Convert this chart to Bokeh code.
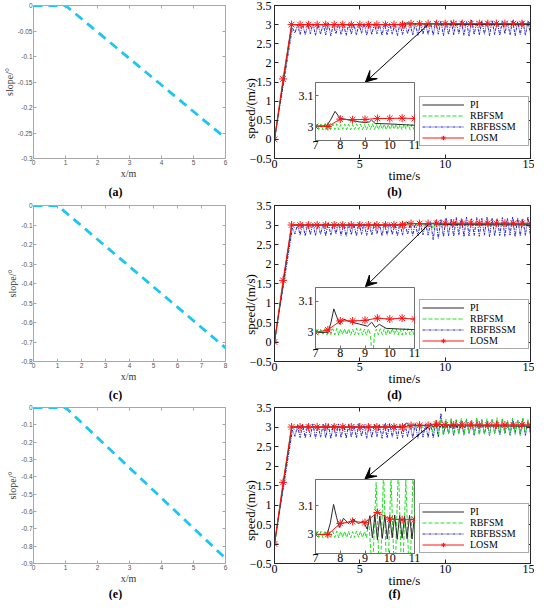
import math
import numpy as np
from bokeh.plotting import figure
from bokeh.models import (GridBox, FixedTicker, Range1d, Arrow, VeeHead, Legend,
                          LegendItem, Label, LinearAxis)
from bokeh.embed import file_html
from bokeh.resources import INLINE

# ======================= DATA =======================
# --- slope profiles (left column) ---
slope_a_x = [0, 1, 6]
slope_a_y = [0, 0, -0.26]
slope_c_x = [0, 1, 8]
slope_c_y = [0, 0, -0.73]
slope_e_x = [0, 1, 6]
slope_e_y = [0, 0, -0.87]

slope_a_xticks = [0, 1, 2, 3, 4, 5, 6]
slope_c_xticks = [0, 1, 2, 3, 4, 5, 6, 7, 8]
slope_e_xticks = [0, 1, 2, 3, 4, 5, 6]
slope_a_yticks = [0, -0.05, -0.1, -0.15, -0.2, -0.25, -0.3]
slope_a_ylabels = ["0", "-0.05", "-0.1", "-0.15", "-0.2", "-0.25", "-0.3"]
slope_c_yticks = [0, -0.1, -0.2, -0.3, -0.4, -0.5, -0.6, -0.7, -0.8]
slope_c_ylabels = ["0", "-0.1", "-0.2", "-0.3", "-0.4", "-0.5", "-0.6", "-0.7", "-0.8"]
slope_e_yticks = [0, -0.1, -0.2, -0.3, -0.4, -0.5, -0.6, -0.7, -0.8, -0.9]
slope_e_ylabels = ["0", "-0.1", "-0.2", "-0.3", "-0.4", "-0.5", "-0.6", "-0.7", "-0.8", "-0.9"]

# --- speed panels (right column) ---
speed_xticks = [0, 5, 10, 15]
speed_yticks = [-0.5, 0, 0.5, 1, 1.5, 2, 2.5, 3, 3.5]
speed_ylabels = ["\u22120.5", "0", "0.5", "1", "1.5", "2", "2.5", "3", "3.5"]
zoom_xticks = [7, 8, 9, 10, 11]
zoom_yticks = [3, 3.1]
zoom_ylabels = ["3", "3.1"]
series_names = ["PI", "RBFSM", "RBFBSSM", "LOSM"]
panel_tags = ["(a)", "(b)", "(c)", "(d)", "(e)", "(f)"]
slope_xlabel, slope_ylabel = "x/m", "slope/\u00b0"
speed_xlabel, speed_ylabel = "time/s", "speed/(m/s)"

# LOSM (sampled every 0.5 s)
losm_t = [0, 0.5, 1, 1.5, 2, 2.5, 3, 3.5, 4, 4.5, 5, 5.5, 6, 6.5, 7, 7.5,
          8, 8.5, 9, 9.5, 10, 10.5, 11, 11.5, 12, 12.5, 13, 13.5, 14, 14.5, 15]
losm_b = [0, 1.58, 3.0, 3.0, 3.0, 3.0, 3.0, 3.0, 3.0, 3.0, 3.0, 3.0, 3.0, 3.0, 3.0, 3.0,
          3.024, 3.022, 3.023, 3.026, 3.026, 3.027, 3.026, 3.026, 3.027, 3.026, 3.026,
          3.027, 3.026, 3.026, 3.026]
losm_d = [0, 1.58, 3.0, 3.0, 3.0, 3.0, 3.0, 3.0, 3.0, 3.0, 3.0, 3.0, 3.0, 3.0, 3.0, 3.008,
          3.037, 3.037, 3.039, 3.046, 3.043, 3.046, 3.043, 3.044, 3.045, 3.043, 3.044,
          3.045, 3.043, 3.044, 3.045]
losm_f = [0, 1.58, 3.0, 3.0, 3.0, 3.0, 3.0, 3.0, 3.0, 3.0, 3.0, 3.0, 3.0, 3.0, 3.0, 3.0,
          3.038, 3.045, 3.041, 3.076, 3.053, 3.051, 3.051, 3.052, 3.051, 3.050, 3.052,
          3.051, 3.051, 3.052, 3.051]

# PI
pi_b_t = [0, 1.0, 1.1, 7.45, 7.6, 7.79, 7.92, 8.02, 8.36, 8.76, 9.03, 9.18, 9.26, 9.41,
          10.12, 11.0, 15.0]
pi_b_y = [0, 2.96, 3.0, 3.002, 3.02, 3.049, 3.035, 3.026, 3.021, 3.015, 3.013, 3.015,
          3.021, 3.01, 3.008, 3.004, 3.0]
pi_d_t = [0, 1.0, 1.1, 7.5, 7.62, 7.74, 7.86, 7.97, 8.13, 8.37, 8.77, 9.1, 9.27, 9.42,
          9.58, 9.85, 10.4, 11.0, 15.0]
pi_d_y = [0, 2.96, 3.0, 3.0, 3.03, 3.076, 3.05, 3.027, 3.043, 3.035, 3.027, 3.02, 3.033,
          3.016, 3.026, 3.013, 3.011, 3.009, 3.005]
pi_f_t = [0, 1.0, 1.1, 7.47, 7.6, 7.73, 7.85, 7.96, 8.13, 8.33, 8.51, 8.73, 8.93, 9.09,
          9.2, 9.3, 9.4, 9.5, 9.6, 9.7, 9.8, 9.9, 10.0, 10.1, 10.2, 10.3, 10.4, 10.5,
          10.6, 10.7, 10.8, 10.9, 11.0, 11.1, 11.2, 15.0]
pi_f_y = [0, 2.96, 3.0, 3.0, 3.04, 3.104, 3.06, 3.024, 3.056, 3.038, 3.053, 3.038, 3.045,
          3.018, 3.065, 2.988, 3.068, 2.982, 3.064, 2.986, 3.066, 2.984, 3.062, 2.988,
          3.067, 2.983, 3.065, 2.987, 3.063, 2.985, 3.066, 2.984, 3.064, 2.99, 3.03, 3.02]

# RBFSM: ramp, then a narrow band (sampled every 0.08 s from 6.9 s), then settle
green_pre_t = [0, 1.0, 6.82]
green_pre_y = [0, 3.0, 3.0]
green_post_t = [11.2, 15.0]
green_post_y = [3.0, 3.0]
green_b_band = [3.008, 2.990, 3.007, 2.991, 3.008, 2.989, 3.009, 2.990, 3.007, 2.991,
                3.008, 2.990, 3.009, 2.989, 3.007, 2.991, 3.008, 2.990, 3.008, 2.989,
                3.007, 2.990, 3.009, 2.991, 3.008, 2.990, 3.007, 2.989, 3.008, 2.991,
                3.009, 2.990, 3.007, 2.990, 3.008, 2.991, 3.008, 2.989, 3.007, 2.990,
                3.009, 2.991, 3.008, 2.990, 3.007, 2.989, 3.008, 2.991, 3.008, 2.990,
                3.007, 2.990, 3.008, 2.991]
green_d_band = [3.012, 2.992, 3.011, 2.993, 3.012, 2.991, 3.013, 2.992, 3.011, 2.993,
                3.012, 2.992, 3.013, 2.991, 3.011, 2.993, 3.012, 2.992, 3.012, 2.991,
                3.011, 2.992, 3.013, 2.993, 3.012, 2.992, 3.011, 2.991, 3.012, 2.993,
                2.900, 2.992, 3.011, 2.992, 3.012, 2.993, 3.012, 2.991, 3.011, 2.992,
                3.013, 2.993, 3.012, 2.992, 3.011, 2.991, 3.012, 2.993, 3.012, 2.992,
                3.011, 2.992, 3.012, 2.993]
green_f_band = [3.011, 2.989, 3.010, 2.990, 3.011, 2.988, 3.012, 2.989, 3.010, 2.990,
                3.011, 2.989, 3.012, 2.988, 3.010, 2.990, 3.011, 2.989, 3.011, 2.988,
                3.010, 2.989, 3.012, 2.990, 3.011, 2.989, 3.010, 2.988]
# RBFSM (f): large oscillation after ~9.1 s (sampled every 0.15 s from 9.15 s)
green_f_big = [3.05, 2.86, 3.18, 2.80, 3.22, 2.78, 3.20, 2.82, 3.24, 2.79,
               3.19, 2.81, 3.23, 2.78, 3.21, 2.83, 3.18, 2.80, 3.25, 2.79,
               3.20, 2.82, 3.22, 2.78, 3.19, 2.81, 3.24, 2.80, 3.21, 2.83,
               3.18, 2.79, 3.23, 2.81, 3.20, 2.78, 3.22, 2.82, 3.19, 2.80]

# RBFBSSM: ramp, then oscillation (extrema every 0.15 s from 1.2 s)
blue_ramp_t = [0, 1.05]
blue_ramp_y = [0, 2.92]
blue_b = [2.78, 3.00, 2.74, 3.02, 2.73, 3.01, 2.76, 3.03, 2.72, 3.00,
          2.75, 3.02, 2.73, 3.04, 2.71, 3.01, 2.76, 3.02, 2.74, 3.00,
          2.72, 3.03, 2.75, 3.01, 2.73, 3.02, 2.77, 3.04, 2.72, 3.01,
          2.74, 3.03, 2.76, 3.00, 2.72, 3.02, 2.73, 3.04, 2.75, 3.01,
          2.71, 3.03, 2.74, 3.02, 2.76, 3.01, 2.73, 3.04, 2.72, 3.02,
          2.75, 3.03, 2.74, 3.05,
          2.72, 3.08, 2.75, 3.10, 2.71, 3.07, 2.74, 3.11, 2.73, 3.08,
          2.76, 3.10, 2.72, 3.09, 2.70, 3.12, 2.74, 3.08, 2.73, 3.10,
          2.75, 3.09, 2.71, 3.11, 2.74, 3.08, 2.72, 3.10, 2.76, 3.09,
          2.73, 3.11, 2.71, 3.08, 2.74, 3.10, 2.72, 3.09, 2.75, 3.10]
blue_d = [2.77, 3.02, 2.74, 3.04, 2.72, 3.03, 2.75, 3.05, 2.73, 3.02,
          2.76, 3.04, 2.72, 3.06, 2.74, 3.03, 2.77, 3.05, 2.73, 3.02,
          2.71, 3.05, 2.75, 3.03, 2.72, 3.06, 2.76, 3.04, 2.73, 3.03,
          2.74, 3.05, 2.77, 3.02, 2.72, 3.04, 2.74, 3.06, 2.75, 3.03,
          2.72, 3.05, 2.74, 3.04, 2.76, 3.03, 2.73, 3.06, 2.72, 3.04,
          2.75, 3.05, 2.74, 3.07,
          2.62, 3.12, 2.66, 3.15, 2.70, 3.18, 2.72, 3.16, 2.71, 3.19,
          2.74, 3.17, 2.70, 3.20, 2.72, 3.16, 2.73, 3.19, 2.71, 3.17,
          2.74, 3.20, 2.70, 3.18, 2.72, 3.16, 2.73, 3.19, 2.71, 3.17,
          2.74, 3.20, 2.70, 3.18, 2.72, 3.16, 2.73, 3.21, 2.71, 3.17]
blue_f = [2.76, 3.04, 2.73, 3.07, 2.72, 3.06, 2.75, 3.08, 2.71, 3.05,
          2.74, 3.07, 2.72, 3.09, 2.70, 3.06, 2.75, 3.08, 2.73, 3.05,
          2.71, 3.08, 2.74, 3.06, 2.72, 3.09, 2.76, 3.07, 2.71, 3.06,
          2.73, 3.08, 2.75, 3.05, 2.71, 3.07, 2.72, 3.09, 2.74, 3.06,
          2.70, 3.08, 2.73, 3.07, 2.75, 3.06, 2.72, 3.09, 2.71, 3.07,
          2.74, 3.08, 2.73, 3.10,
          2.72, 3.12, 2.74, 3.35, 2.80, 3.14, 2.82, 3.15, 2.78, 3.18,
          2.84, 3.16, 2.80, 3.20, 2.83, 3.14, 2.79, 3.18, 2.85, 3.17,
          2.81, 3.15, 2.78, 3.19, 2.84, 3.16, 2.80, 3.20, 2.83, 3.14,
          2.79, 3.18, 2.85, 3.17, 2.81, 3.21, 2.78, 3.15, 2.84, 3.19]

# ======================= STYLE =======================
SERIF = "Liberation Serif"
SANS = "Liberation Sans"
CYAN = "#1cc6f2"
GREEN = "#1ee01e"
BLUE = "#2626cc"
BLACK = "#2b2b2b"
RED = "#ff1414"
AX_DARK = "#262626"
AX_LIGHT = "#a8a8a8"


def sample_times(start, step, n):
    return [round(start + step * i, 4) for i in range(n)]


def mirror_axis(p, ticks, place, color, tick_len):
    ax = LinearAxis(ticker=FixedTicker(ticks=ticks),
                    major_label_overrides={t: "" for t in ticks},
                    major_label_text_font_size="0px", major_label_standoff=0,
                    major_tick_in=tick_len, major_tick_out=0,
                    minor_tick_line_color=None, axis_line_color=color,
                    major_tick_line_color=color)
    p.add_layout(ax, place)


def slope_panel(x, y, xmax, ymin, xticks, yticks, ylabels, height, top, bottom):
    s = figure(width=234, height=height, x_range=Range1d(0, xmax), y_range=Range1d(ymin, 0),
               output_backend="svg", toolbar_location=None,
               min_border_left=25, min_border_right=9, min_border_top=top,
               min_border_bottom=bottom, background_fill_color="white",
               border_fill_color=None)
    s.grid.visible = False
    s.outline_line_color = AX_LIGHT
    s.line(x, y, line_color=CYAN, line_width=2.8, line_dash="9 6")
    s.xaxis.ticker = FixedTicker(ticks=xticks)
    s.yaxis.ticker = FixedTicker(ticks=yticks)
    s.yaxis.major_label_overrides = dict(zip(yticks, ylabels))
    s.yaxis.axis_label = slope_ylabel
    for ax in (s.xaxis[0], s.yaxis[0]):
        ax.axis_line_color = AX_LIGHT
        ax.major_tick_line_color = AX_LIGHT
        ax.major_tick_in = 3
        ax.major_tick_out = 0
        ax.minor_tick_line_color = None
        ax.major_label_text_font = SANS
        ax.major_label_text_font_size = "6.5px"
        ax.major_label_text_color = "#555555"
        ax.axis_label_text_font = SERIF
        ax.axis_label_text_font_size = "10px"
        ax.axis_label_text_font_style = "normal"
        ax.axis_label_text_color = "#333333"
    s.xaxis.major_label_standoff = 1
    s.yaxis.major_label_standoff = 1
    s.yaxis.axis_label_standoff = 0
    mirror_axis(s, xticks, "above", AX_LIGHT, 3)
    mirror_axis(s, yticks, "right", AX_LIGHT, 3)
    return s


def speed_panel(pi_t, pi_y, g_t, g_y, b_t, b_y, l_y, height, top, bottom,
                legend_dy, arrow_end):
    p = figure(width=300, height=height, x_range=Range1d(0, 15), y_range=Range1d(-0.5, 3.5),
               output_backend="svg", toolbar_location=None,
               min_border_left=40, min_border_right=4, min_border_top=top,
               min_border_bottom=bottom, background_fill_color="white",
               border_fill_color=None)
    p.grid.visible = False
    p.outline_line_color = AX_DARK
    p.xaxis.ticker = FixedTicker(ticks=speed_xticks)
    p.yaxis.ticker = FixedTicker(ticks=speed_yticks)
    p.yaxis.major_label_overrides = dict(zip(speed_yticks, speed_ylabels))
    for ax in (p.xaxis[0], p.yaxis[0]):
        ax.axis_line_color = AX_DARK
        ax.major_tick_line_color = AX_DARK
        ax.major_tick_in = 4
        ax.major_tick_out = 0
        ax.minor_tick_line_color = None
        ax.major_label_text_font = SERIF
        ax.major_label_text_font_size = "12px"
        ax.major_label_text_color = "black"
    p.xaxis.major_label_standoff = 1
    p.yaxis.major_label_standoff = 3
    mirror_axis(p, speed_xticks, "above", AX_DARK, 4)
    mirror_axis(p, speed_yticks, "right", AX_DARK, 4)

    r_b = p.line(b_t, b_y, line_color=BLUE, line_width=1, line_dash="3 1 1 1")
    r_g = p.line(g_t, g_y, line_color=GREEN, line_width=1, line_dash="4 2")
    r_k = p.line(pi_t, pi_y, line_color=BLACK, line_width=1)
    r_l = p.line(losm_t, l_y, line_color=RED, line_width=1)
    r_m = p.scatter(losm_t, l_y, marker="asterisk", size=8, line_color=RED, line_width=1)

    legend = Legend(items=[LegendItem(label=series_names[0], renderers=[r_k]),
                           LegendItem(label=series_names[1], renderers=[r_g]),
                           LegendItem(label=series_names[2], renderers=[r_b]),
                           LegendItem(label=series_names[3], renderers=[r_l, r_m])],
                    location=(145, legend_dy), margin=0, padding=2, spacing=0,
                    glyph_width=42, glyph_height=11, label_height=11, label_width=56,
                    label_standoff=6, label_text_font=SERIF, label_text_font_size="10px",
                    label_text_color="black", border_line_color="#555555",
                    border_line_width=1, background_fill_color="white",
                    background_fill_alpha=1.0)
    p.add_layout(legend)
    p.add_layout(Arrow(end=VeeHead(size=11, fill_color="black", line_color="black"),
                       x_start=9.0, y_start=3.0, x_end=arrow_end[0], y_end=arrow_end[1],
                       line_color="black", line_width=1))
    return p


def zoom_panel(pi_t, pi_y, g_t, g_y, l_y, height, ylo, yhi):
    q = figure(width=132, height=height, x_range=Range1d(7, 11), y_range=Range1d(ylo, yhi),
               output_backend="svg", toolbar_location=None,
               min_border_left=23, min_border_right=10, min_border_top=3,
               min_border_bottom=17, background_fill_color="white",
               border_fill_color=None)
    q.grid.visible = False
    q.outline_line_color = "#6e6e6e"
    q.xaxis.ticker = FixedTicker(ticks=zoom_xticks)
    q.yaxis.ticker = FixedTicker(ticks=zoom_yticks)
    q.yaxis.major_label_overrides = dict(zip(zoom_yticks, zoom_ylabels))
    for ax in (q.xaxis[0], q.yaxis[0]):
        ax.axis_line_color = "#6e6e6e"
        ax.major_tick_line_color = "#6e6e6e"
        ax.major_tick_in = 3
        ax.major_tick_out = 0
        ax.minor_tick_line_color = None
        ax.major_label_text_font = SERIF
        ax.major_label_text_font_size = "12px"
        ax.major_label_text_color = "black"
    q.xaxis.major_label_standoff = 0
    q.yaxis.major_label_standoff = 2
    q.line(g_t, g_y, line_color=GREEN, line_width=1, line_dash="4 2")
    q.line(pi_t, pi_y, line_color=BLACK, line_width=1)
    q.line(losm_t, l_y, line_color=RED, line_width=1)
    q.scatter(losm_t, l_y, marker="asterisk", size=8, line_color=RED, line_width=1)
    return q


# ---- assemble series ----
blue_t_b = blue_ramp_t + sample_times(1.2, 0.15, len(blue_b))
blue_t_d = blue_ramp_t + sample_times(1.2, 0.15, len(blue_d))
blue_t_f = blue_ramp_t + sample_times(1.2, 0.15, len(blue_f))

g_b_t = green_pre_t + sample_times(6.9, 0.08, len(green_b_band)) + green_post_t
g_b_y = green_pre_y + green_b_band + green_post_y
g_d_t = green_pre_t + sample_times(6.9, 0.08, len(green_d_band)) + green_post_t
g_d_y = green_pre_y + green_d_band + green_post_y
g_f_t = green_pre_t + sample_times(6.9, 0.08, len(green_f_band)) + sample_times(9.15, 0.15, len(green_f_big))
g_f_y = green_pre_y + green_f_band + green_f_big

# ---- panels ----
fa = slope_panel(slope_a_x, slope_a_y, 6, -0.3, slope_a_xticks, slope_a_yticks, slope_a_ylabels,
                 180, 5, 22)
fc = slope_panel(slope_c_x, slope_c_y, 8, -0.8, slope_c_xticks, slope_c_yticks, slope_c_ylabels,
                 187, 9, 22)
fe = slope_panel(slope_e_x, slope_e_y, 6, -0.9, slope_e_xticks, slope_e_yticks, slope_e_ylabels,
                 187, 9, 22)

fb = speed_panel(pi_b_t, pi_b_y, g_b_t, g_b_y, blue_t_b, blue_ramp_y + blue_b, losm_b,
                 180, 5, 22, 12, (5.33, 1.50))
fd = speed_panel(pi_d_t, pi_d_y, g_d_t, g_d_y, blue_t_d, blue_ramp_y + blue_d, losm_d,
                 187, 9, 22, 12, (5.33, 1.42))
ff = speed_panel(pi_f_t, pi_f_y, g_f_t, g_f_y, blue_t_f, blue_ramp_y + blue_f, losm_f,
                 187, 9, 22, 10, (5.30, 1.67))

zb = zoom_panel(pi_b_t, pi_b_y, g_b_t, g_b_y, losm_b, 78, 2.955, 3.142)
zd = zoom_panel(pi_d_t, pi_d_y, g_d_t, g_d_y, losm_d, 81, 2.948, 3.145)
zf = zoom_panel(pi_f_t, pi_f_y, g_f_t, g_f_y, losm_f, 94, 2.934, 3.19)

# ---- transparent overlay holding the free captions (page pixel coordinates) ----
# It starts 1px inside the page so that its frame is not aligned with the plots' frames.
PAGE_W, PAGE_H = 534, 600
OV_X0, OV_Y0, OV_X1, OV_Y1 = 1, 1, 533, 600
ov = figure(width=OV_X1 - OV_X0, height=OV_Y1 - OV_Y0,
            x_range=Range1d(OV_X0, OV_X1), y_range=Range1d(OV_Y1, OV_Y0),
            output_backend="svg", toolbar_location=None, x_axis_location=None,
            y_axis_location=None, min_border=0, background_fill_color=None,
            border_fill_color=None, outline_line_color=None)
ov.grid.visible = False


def caption(x, y, text, size, bold=False, angle=0.0, color="black"):
    ov.add_layout(Label(x=x, y=y, text=text, text_font=SERIF, text_font_size=size,
                        text_font_style="bold" if bold else "normal", text_color=color,
                        text_align="center", text_baseline="middle", angle=angle))


# per row: frame bottom, tag line, speed-label centre (page px)
row_geom = [(158, 191, 108), (361, 394, 304), (563, 593, 510)]
for i, (fbot, tag_y, spd_y) in enumerate(row_geom):
    caption(128, fbot + 15, slope_xlabel, "10px", color="#333333")
    caption(404, fbot + 17, speed_xlabel, "13px")
    caption(250, spd_y, speed_ylabel, "13px", angle=math.pi / 2)
    caption(115, tag_y, panel_tags[2 * i], "12px", bold=True)
    caption(394, tag_y, panel_tags[2 * i + 1], "12px", bold=True)

# ---- grid placement (x, y, w, h in page px); overlaps allowed ----
placements = [(fa, 0, 0, 234, 180), (fb, 234, 0, 300, 180), (zb, 292, 79, 132, 78),
              (fc, 0, 196, 234, 187), (fd, 234, 196, 300, 187), (zd, 292, 284, 132, 81),
              (fe, 0, 398, 234, 187), (ff, 234, 398, 300, 187), (zf, 292, 476, 132, 94),
              (ov, OV_X0, OV_Y0, OV_X1 - OV_X0, OV_Y1 - OV_Y0)]
xs = sorted({p[1] for p in placements} | {p[1] + p[3] for p in placements})
ys = sorted({p[2] for p in placements} | {p[2] + p[4] for p in placements})
children = [(f, ys.index(y), xs.index(x), ys.index(y + h) - ys.index(y),
             xs.index(x + w) - xs.index(x)) for f, x, y, w, h in placements]

grid = GridBox(children=children,
               rows=[f"{b - a}px" for a, b in zip(ys, ys[1:])],
               cols=[f"{b - a}px" for a, b in zip(xs, xs[1:])],
               spacing=0)

open("out.html", "w").write(file_html(grid, INLINE))
